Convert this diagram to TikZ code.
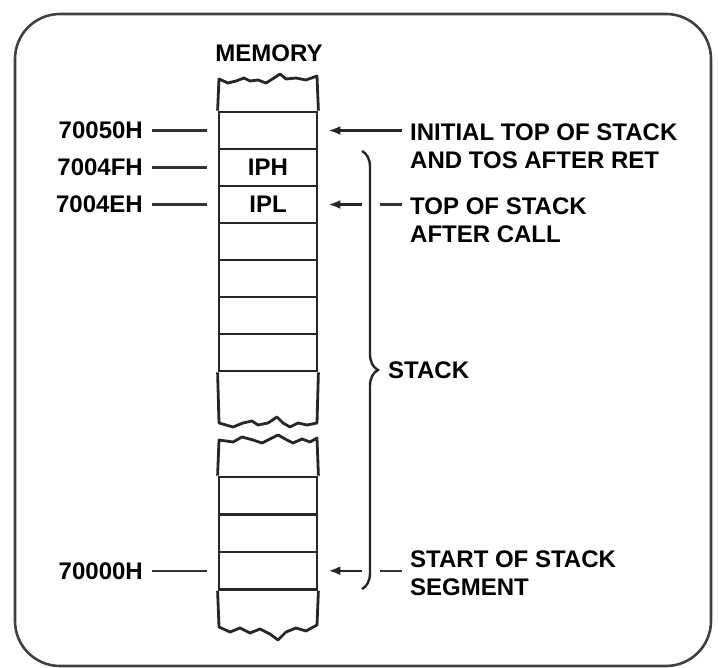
\documentclass[tikz,border=0pt]{standalone}
\usepackage{fontspec}
\setmainfont{Liberation Sans}
\usetikzlibrary{arrows.meta, positioning, calc, decorations.pathreplacing}
\newcommand{\memfont}{\fontsize{24}{28}\selectfont\bfseries}
\tikzset{
	memcell/.style={
		rectangle, draw=black!85, line width=2.8pt,
		minimum width=98pt, minimum height=37pt,
		inner sep=0pt, font=\memfont
	},
	memedge/.style={
		draw=black!85, line width=2.8pt, line join=round
	},
	addr/.style={
		anchor=east, inner xsep=9pt, inner ysep=0pt, font=\memfont
	},
	note/.style={
		anchor=west, align=left, inner xsep=8pt, inner ysep=0pt, font=\memfont
	},
	tick/.style={
		line width=2.4pt, color=black!80, shorten >=11pt
	},
	arrow/.style={
		-{Latex[length=12pt, width=9pt]}, line width=2.4pt,
		color=black!85, shorten >=10pt
	},
	stackbrace/.style={
		decorate, decoration={brace, amplitude=16pt},
		line width=2.4pt, color=black!85
	},
	frame/.style={
		draw=black!75, line width=2.6pt, rounded corners=45pt
	}
}

\begin{document}
\begin{tikzpicture}[x=1pt, y=-1pt]
		\useasboundingbox (0,0) rectangle (718,668);
		\draw[frame] (15,14) rectangle (711,666);
		
		%% ═══════════════════════════════
		%%  MEMORY COLUMN — upper part
		%% ═══════════════════════════════
		\node[font=\memfont, inner sep=0pt] (memtitle) at (269,53) {MEMORY};
		
		\node[memcell] (c50)  at (268,130.5) {};
		\node[memcell] (ciph) at (268,167.5) {IPH};
		\node[memcell] (cipl) at (268,204.5) {IPL};
		\foreach \y [count=\i] in {241.5,278.5,315.5,352.5}
			\node[memcell] (cu\i) at (268,\y) {};
		
		% broken top edge
		\draw[memedge] (c50.north west) -- (219,79) -- (228,83) -- (236,81)
		-- (244,78) -- (250,81) -- (258,80) -- (266,83) -- (274,78)
		-- (280,74) -- (286,79) -- (296,78) -- (306,80) -- (317,76)
		-- (c50.north east);
		% broken bottom edge
		\draw[memedge] (cu4.south west) -- (219,423) -- (233,427) -- (243,423)
		-- (252,421) -- (258,425) -- (268,423) -- (277,417) -- (283,423)
		-- (290,427) -- (298,423) -- (307,425) -- (317,423)
		-- (cu4.south east);
		
		%% ═══════════════════════════════
		%%  MEMORY COLUMN — lower part
		%% ═══════════════════════════════
		\foreach \y [count=\i] in {495.75,533.25}
			\node[memcell, minimum height=37.5pt] (cl\i) at (268,\y) {};
		\node[memcell, minimum height=37.5pt] (c00) at (268,570.75) {};
		
		\draw[memedge] (cl1.north west) -- (219,440) -- (233,442) -- (242,437)
		-- (253,440) -- (262,443) -- (270,439) -- (278,435) -- (287,440)
		-- (293,443) -- (302,439) -- (310,442) -- (317,438)
		-- (cl1.north east);
		\draw[memedge] (c00.south west) -- (219,627) -- (230,632) -- (240,628)
		-- (250,633) -- (260,629) -- (270,634) -- (278,640) -- (286,632)
		-- (296,628) -- (306,631) -- (317,625)
		-- (c00.south east);
		
		%% ═══════════════════════════════
		%%  ADDRESSES
		%% ═══════════════════════════════
		\node[addr] (a50) at (152,130.5)  {70050H};
		\node[addr] (a4f) at (152,167.5)  {7004FH};
		\node[addr] (a4e) at (152,204.5)  {7004EH};
		\node[addr] (a00) at (152,570.75) {70000H};
		
		\draw[tick] (a50.east) -- (c50.west);
		\draw[tick] (a4f.east) -- (ciph.west);
		\draw[tick] (a4e.east) -- (cipl.west);
		\draw[tick] (a00.east) -- (c00.west);
		
		%% ═══════════════════════════════
		%%  NOTES
		%% ═══════════════════════════════
		\node[note] (initnote) at (402,146.5) {INITIAL TOP OF STACK\\AND TOS AFTER RET};
		\node[note] (callnote) at (402,220)   {TOP OF STACK\\AFTER CALL};
		\node[note] (segnote)  at (402,573)   {START OF STACK\\SEGMENT};
		\node[note, inner xsep=0pt] (stacknote) at (388,370) {STACK};
		
		% stack brace
		\coordinate (brtop) at (362,151);
		\coordinate (brbot) at (362,589);
		\draw[stackbrace] (brtop) -- (brbot);
		
		% pointers
		\coordinate (callbr) at (362,204.5);
		\coordinate (segbr)  at (362,570.75);
		
		\draw[arrow] (initnote.west |- c50.east) -- (c50.east);
		
		\draw[tick, shorten >=18pt] (callnote.west |- cipl.east) -- (callbr);
		\draw[arrow] (callbr) -- (cipl.east);
		
		\draw[tick, shorten >=18pt] (segnote.west |- c00.east) -- (segbr);
		\draw[arrow] (segbr) -- (c00.east);
\end{tikzpicture}
\end{document}
